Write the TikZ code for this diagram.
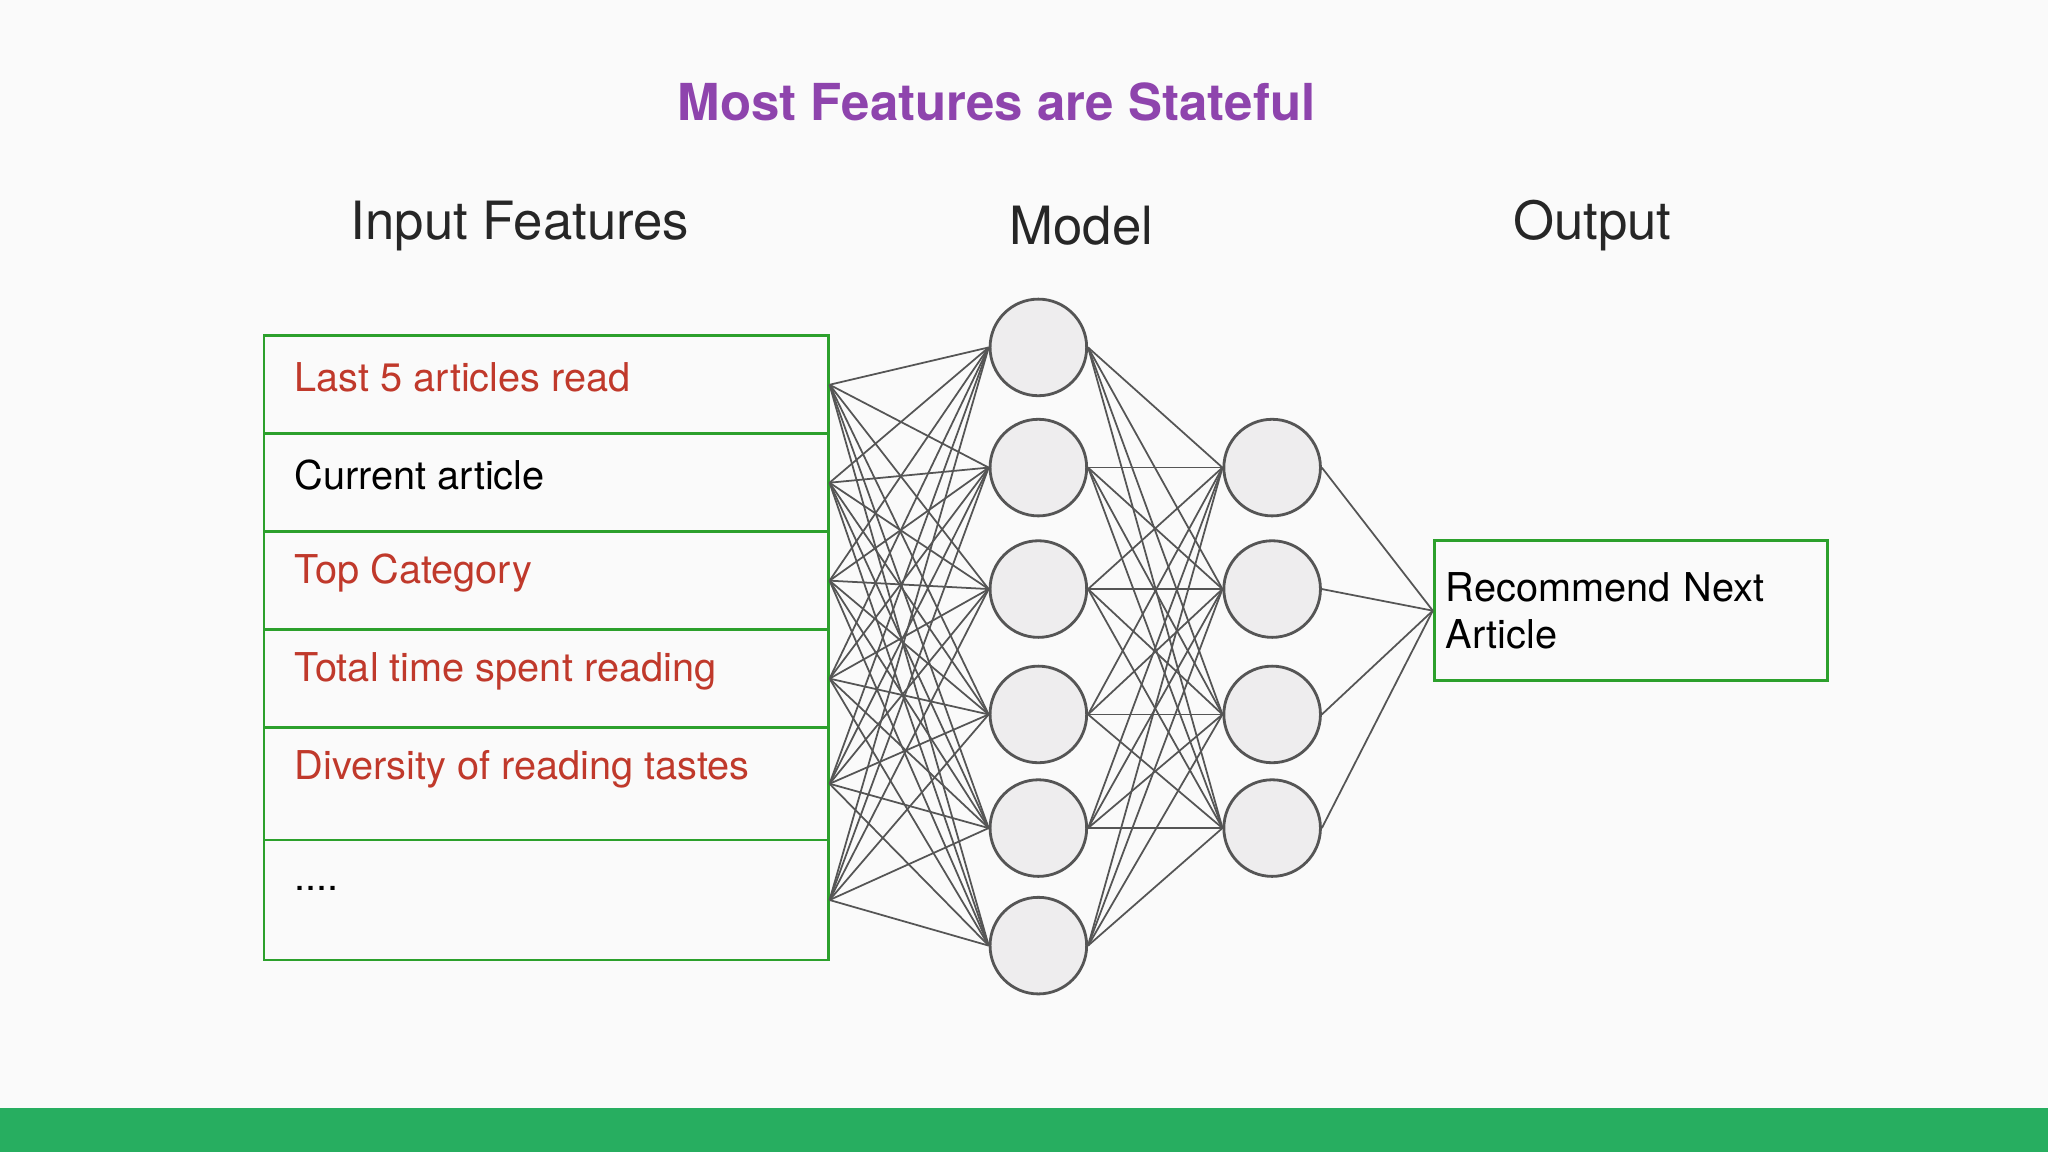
\documentclass[tikz,border=0pt]{standalone}
\usepackage{fontspec}
\setmainfont{TeX Gyre Heros}
\usetikzlibrary{positioning}
\definecolor{titlepurple}{HTML}{8E44AD}
\definecolor{featred}{HTML}{C0392B}
\definecolor{boxgreen}{HTML}{2CA02C}
\definecolor{bargreen}{HTML}{27AE60}
\definecolor{netgray}{HTML}{555555}
\definecolor{cellfill}{HTML}{EEEDEE}
\begin{document}
\begin{tikzpicture}[x=0.01306cm,y=-0.01306cm,
    f box/.style={draw=boxgreen,thick,minimum width=5.642cm,anchor=north west,inner sep=0pt},
    f text/.style={anchor=west,font=\fontsize{11.3}{13.5}\selectfont},
    n node/.style={circle,draw=netgray,fill=cellfill,thick,minimum size=0.966cm,inner sep=0pt},
    head/.style={font=\fontsize{15}{18}\selectfont,text=black!85},
    wire/.style={draw=netgray,line width=0.5pt}]

    \useasboundingbox[fill=white!98!black] (0,0) rectangle (1568,882);
    \fill[bargreen] (0,848) rectangle (1568,882);

    \node[font=\fontsize{14.5}{17}\selectfont\bfseries,text=titlepurple] (title) at (763,78) {Most Features are Stateful};
    \node[head] (hin) at (398,173) {Input Features};
    \node[head] (hmod) at (828,173) {Model};
    \node[head] (hout) at (1219,173) {Output};

    % input feature rows
    \node[f box,minimum height=0.9795cm] (r1) at (201,256) {};
    \node[f box,minimum height=0.9795cm] (r2) at (201,331) {};
    \node[f box,minimum height=0.9795cm] (r3) at (201,406) {};
    \node[f box,minimum height=0.9795cm] (r4) at (201,481) {};
    \node[f box,minimum height=1.123cm] (r5) at (201,556) {};
    \node[f box,minimum height=1.2015cm] (r6) at (201,642) {};

    \node[f text,text=featred] (t1) at (216,289) {Last 5 articles read};
    \node[f text] (t2) at (216,364) {Current article};
    \node[f text,text=featred] (t3) at (216,439) {Top Category};
    \node[f text,text=featred] (t4) at (216,514) {Total time spent reading};
    \node[f text,text=featred] (t5) at (216,589) {Diversity of reading tastes};
    \node[f text] (t6) at (216,680) {....};

    % output
    \node[draw=boxgreen,thick,anchor=north west,minimum width=3.918cm,minimum height=1.397cm,
          text width=3.7cm,align=left,font=\fontsize{11.3}{13.5}\selectfont] (out) at (1097,413)
          {Recommend Next\\Article};

    % hidden layers
    \foreach \i/\y in {1/266,2/358,3/451,4/547,5/634,6/724}
        \node[n node] (a\i) at (795,\y) {};
    \foreach \i/\y in {1/358,2/451,3/547,4/634}
        \node[n node] (b\i) at (974,\y) {};

    \foreach \r in {1,...,6}
        \foreach \i in {1,...,6}
            \draw[wire] (r\r.east) -- (a\i.west);
    \foreach \i in {1,...,6}
        \foreach \j in {1,...,4}
            \draw[wire] (a\i.east) -- (b\j.west);
    \foreach \j in {1,...,4}
        \draw[wire] (b\j.east) -- (out.west);

\end{tikzpicture}
\end{document}
